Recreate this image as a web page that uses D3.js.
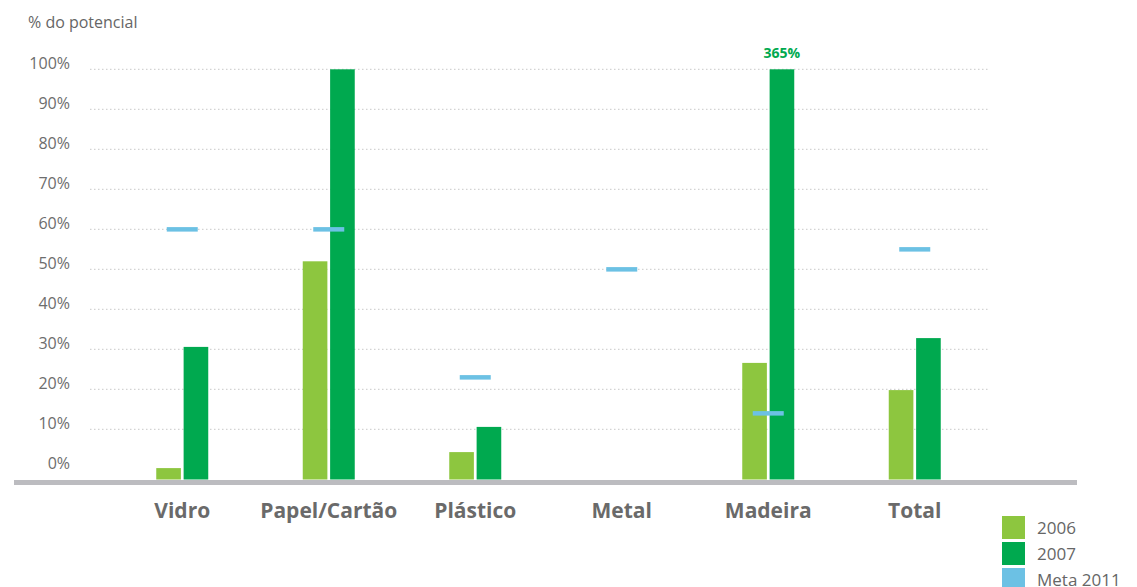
<!DOCTYPE html>
<html><head><meta charset="utf-8">
<script src="https://cdn.jsdelivr.net/npm/d3@7"></script>
<style>body{margin:0;background:#fff;} svg{display:block;font-family:"Open Sans",sans-serif;}</style>
</head><body>
<svg id="c" width="1137" height="587"></svg>
<script>
const categories = ["Vidro","Papel/Cartão","Plástico","Metal","Madeira","Total"];
const values2006 = [0.3, 52, 4.3, null, 26.6, 19.8];
const values2007 = [30.6, 100, 10.6, null, 365, 32.8];
const meta2011 = [60, 60, 23, 50, 14, 55];
const yTicks = [0,10,20,30,40,50,60,70,80,90,100];
const seriesNames = ["2006","2007","Meta 2011"];
const colors = ["#8dc63f","#00a94f","#6cc1e4"];

const svg = d3.select("#c");
const y = d3.scaleLinear().domain([-2.55, 100]).range([479.5, 69.3]);
const yMax = 100;
const x = d3.scaleBand().domain(categories).range([109, 988]);
const inner = d3.scaleBand().domain(["2006","2007"]).range([-26, 26]).paddingInner(0.1);

// title
svg.append("text").attr("x",28).attr("y",28).attr("font-size",16).attr("fill","#666").text("% do potencial");

// gridlines
const grid = svg.append("g");
grid.selectAll("line").data(yTicks.filter(d=>d>0)).join("line")
  .attr("x1",90).attr("x2",990).attr("y1",d=>y(d)).attr("y2",d=>y(d))
  .attr("stroke","#c8c8c8").attr("stroke-width",1).attr("stroke-dasharray","1.5,2.5");
// y labels
const yAxis = d3.axisLeft(y).tickValues(yTicks).tickFormat(d=>d+"%").tickSize(0).tickPadding(0);
const ya = svg.append("g").attr("transform","translate(70,0)").call(yAxis);
ya.select(".domain").remove();
ya.selectAll("text").attr("font-size",16).attr("fill","#6d6d6d").attr("font-family","Open Sans, sans-serif").attr("dy","-0.05em");

// bars
const base = y(-2.55);
function bars(vals, key, color){
  svg.append("g").selectAll("rect").data(categories.map((c,i)=>({c,v:vals[i]})).filter(d=>d.v!=null)).join("rect")
    .attr("x",d=>x(d.c)+x.bandwidth()/2+inner(key))
    .attr("width",inner.bandwidth())
    .attr("y",d=>y(Math.min(d.v,yMax)))
    .attr("height",d=>base-y(Math.min(d.v,yMax)))
    .attr("fill",color);
}
bars(values2006,"2006",colors[0]);
bars(values2007,"2007",colors[1]);

// overflow label
const over = categories.map((c,i)=>({c,v:values2007[i]})).filter(d=>d.v!=null && d.v>yMax);
svg.append("g").selectAll("text").data(over).join("text")
  .attr("x",d=>x(d.c)+x.bandwidth()/2+inner("2007")+inner.bandwidth()/2)
  .attr("y",y(yMax)-11).attr("text-anchor","middle").attr("font-size",14).attr("font-weight",700)
  .attr("fill","#00a94f").text(d=>d.v+"%");

// meta markers
svg.append("g").selectAll("rect").data(categories.map((c,i)=>({c,v:meta2011[i]}))).join("rect")
  .attr("x",d=>x(d.c)+x.bandwidth()/2-15.5).attr("width",31)
  .attr("y",d=>y(d.v)-2.2).attr("height",4.5).attr("fill",colors[2]);

// baseline
svg.append("line").attr("x1",14).attr("x2",1077).attr("y1",base+3).attr("y2",base+3)
  .attr("stroke","#bcbcc0").attr("stroke-width",5);

// category labels
const xAxis = d3.axisBottom(x).tickSize(0).tickPadding(0);
const xa = svg.append("g").attr("transform","translate(0,518)").call(xAxis);
xa.select(".domain").remove();
xa.selectAll("text").attr("font-size",21).attr("font-weight",700).attr("fill","#6a6a6a")
  .attr("font-family","Open Sans, sans-serif").attr("dy","0");

// legend
const lg = svg.append("g").selectAll("g").data(seriesNames).join("g")
  .attr("transform",(d,i)=>`translate(1002,${516+i*26})`);
lg.append("rect").attr("width",23).attr("height",23).attr("fill",(d,i)=>colors[i]);
lg.append("text").attr("x",35).attr("y",18).attr("font-size",17).attr("fill","#666").text(d=>d);
</script>
</body></html>
